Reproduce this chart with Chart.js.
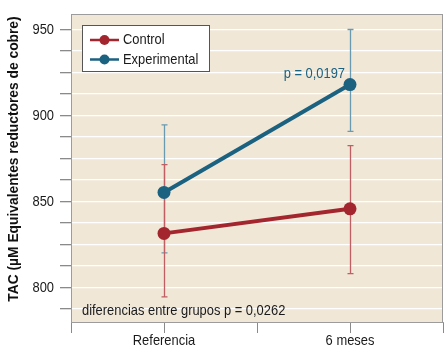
<!DOCTYPE html>
<html><head><meta charset="utf-8">
<script src="https://cdn.jsdelivr.net/npm/chart.js@4"></script>
<style>html,body{margin:0;padding:0;background:#fff}#wrap{width:444px;height:355px}</style>
</head><body><div id="wrap"><canvas id="c" width="444" height="355"></canvas></div>
<script>
const categories = ["Referencia", "6 meses"];
const seriesNames = ["Control", "Experimental"];
const controlMean = [831.5, 845.8];
const controlLow = [794.6, 808.1];
const controlHigh = [871.5, 882.5];
const expMean = [855.3, 918.0];
const expLow = [820.2, 890.8];
const expHigh = [894.6, 950.0];
const yTickValues = [787.5, 800, 812.5, 825, 837.5, 850, 862.5, 875, 887.5, 900, 912.5, 925, 937.5, 950];
const yTickLabels = [800, 850, 900, 950];
const annotP = "p = 0,0197";
const annotGroups = "diferencias entre grupos p = 0,0262";
const yTitle = "TAC (µM Equivalentes reductores de cobre)";

const FONT = '"Liberation Sans", Arial, sans-serif';
const SX = 0.86;
const RED = '#A3262E', TEAL = '#1B6180';
const RED_ERR = '#BF5E63', TEAL_ERR = '#6A9AB0';

const toPts = arr => arr.map((v, i) => ({x: i, y: v}));

function txt(ctx, s, x, y, align, font, color, sx) {
  ctx.save();
  ctx.translate(x, y);
  ctx.scale(sx || SX, 1);
  ctx.font = font;
  ctx.fillStyle = color;
  ctx.textAlign = align;
  ctx.textBaseline = 'middle';
  ctx.fillText(s, 0, 0);
  ctx.restore();
}

const bgPlugin = {
  id: 'bg',
  beforeDraw(chart) {
    const {ctx, chartArea: a} = chart;
    ctx.save();
    ctx.fillStyle = '#F1E7D7';
    ctx.fillRect(a.left, a.top, a.right - a.left, a.bottom - a.top);
    ctx.restore();
  },
  afterDraw(chart) {
    const {ctx, chartArea: a} = chart;
    ctx.save();
    ctx.strokeStyle = '#9C9C9C';
    ctx.lineWidth = 1;
    ctx.strokeRect(a.left + 0.5, a.top + 0.5, a.right - a.left - 1, a.bottom - a.top);
    ctx.restore();
  }
};

const errPlugin = {
  id: 'err',
  beforeDatasetsDraw(chart) {
    const {ctx, scales: {x, y}} = chart;
    const sets = [[expLow, expHigh, TEAL_ERR], [controlLow, controlHigh, RED_ERR]];
    ctx.save();
    ctx.lineWidth = 1.3;
    sets.forEach(([lo, hi, col]) => {
      ctx.strokeStyle = col;
      lo.forEach((l, i) => {
        const px = Math.round(x.getPixelForValue(i)) + 0.5;
        const y1 = y.getPixelForValue(l), y2 = y.getPixelForValue(hi[i]);
        ctx.beginPath();
        ctx.moveTo(px, y1); ctx.lineTo(px, y2);
        ctx.moveTo(px - 3, y1); ctx.lineTo(px + 3, y1);
        ctx.moveTo(px - 3, y2); ctx.lineTo(px + 3, y2);
        ctx.stroke();
      });
    });
    ctx.restore();
  }
};

const textPlugin = {
  id: 'texts',
  afterDraw(chart) {
    const {ctx, scales: {x, y}} = chart;
    const f = '15px ' + FONT;
    yTickLabels.forEach(v => txt(ctx, String(v), 54, y.getPixelForValue(v), 'right', f, '#1a1a1a'));
    categories.forEach((c, i) => txt(ctx, c, x.getPixelForValue(i), 341, 'center', f, '#1a1a1a'));
    ctx.save();
    ctx.translate(14, 159);
    ctx.rotate(-Math.PI / 2);
    txt(ctx, yTitle, 0, 0, 'center', 'bold 15px ' + FONT, '#111', 0.92);
    ctx.restore();
    ctx.save();
    ctx.fillStyle = '#fff';
    ctx.fillRect(82.5, 25.5, 127, 46);
    ctx.strokeStyle = '#555';
    ctx.lineWidth = 1;
    ctx.strokeRect(82.5, 25.5, 127, 46);
    const items = [[seriesNames[0], RED, 40], [seriesNames[1], TEAL, 59.5]];
    items.forEach(([label, col, yy]) => {
      ctx.strokeStyle = col; ctx.lineWidth = 2.5;
      ctx.beginPath(); ctx.moveTo(90, yy); ctx.lineTo(119, yy); ctx.stroke();
      ctx.fillStyle = col;
      ctx.beginPath(); ctx.arc(104.5, yy, 5, 0, Math.PI * 2); ctx.fill();
      txt(ctx, label, 123, yy, 'left', f, '#1a1a1a');
    });
    ctx.restore();
    txt(ctx, annotP, 345, 74, 'right', f, TEAL);
    txt(ctx, annotGroups, 82, 311, 'left', f, '#1a1a1a');
  }
};

new Chart(document.getElementById('c'), {
  type: 'line',
  data: {
    datasets: [
      {label: seriesNames[0], data: toPts(controlMean), borderColor: RED, backgroundColor: RED,
       borderWidth: 4, pointRadius: 6.5, pointHoverRadius: 6.5, pointBorderWidth: 0},
      {label: seriesNames[1], data: toPts(expMean), borderColor: TEAL, backgroundColor: TEAL,
       borderWidth: 4, pointRadius: 6.5, pointHoverRadius: 6.5, pointBorderWidth: 0}
    ]
  },
  options: {
    responsive: false,
    devicePixelRatio: 1,
    animation: false,
    layout: {autoPadding: false, padding: {top: 14, right: 1, left: 0, bottom: 0}},
    plugins: {legend: {display: false}, tooltip: {enabled: false}},
    scales: {
      x: {
        type: 'linear', min: -0.5, max: 1.5,
        afterBuildTicks: s => { s.ticks = [-0.5, 0, 0.5, 1, 1.5].map(v => ({value: v})); },
        afterFit: s => { s.height = 33; s.paddingLeft = 0; s.paddingRight = 0; },
        ticks: {autoSkip: false, maxRotation: 0, callback: () => ''},
        grid: {drawOnChartArea: false, tickColor: '#8a8a8a', tickLength: 11, lineWidth: 1},
        border: {display: true, color: '#9C9C9C', width: 1}
      },
      y: {
        type: 'linear', min: 780, max: 959,
        afterBuildTicks: s => { s.ticks = yTickValues.map(v => ({value: v})); },
        afterFit: s => { s.width = 71; s.paddingTop = 0; s.paddingBottom = 0; },
        ticks: {autoSkip: false, callback: () => ''},
        grid: {color: '#ffffff', lineWidth: 1.3, tickColor: '#8a8a8a', tickLength: 11},
        border: {display: true, color: '#9C9C9C', width: 1}
      }
    }
  },
  plugins: [bgPlugin, errPlugin, textPlugin]
});
</script>
</body></html>
